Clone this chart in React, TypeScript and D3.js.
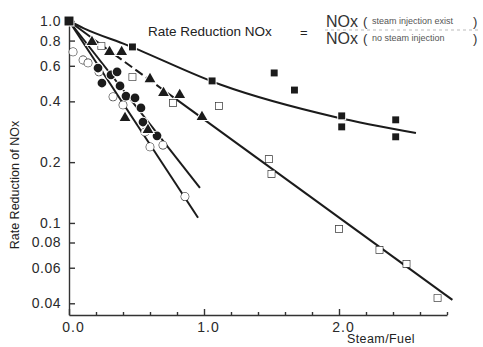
import React, { useEffect, useRef } from 'react'
import * as d3 from 'd3'

// steam/fuel ratio vs NOx reduction rate
const filledSquares: [number, number][] = [
  [0.47, 0.744], [1.06, 0.505], [1.52, 0.553], [1.67, 0.455],
  [2.02, 0.339], [2.02, 0.299], [2.42, 0.324], [2.42, 0.267],
]
const openSquares: [number, number][] = [
  [0.24, 0.752], [0.47, 0.528], [0.77, 0.393], [1.11, 0.38], [1.48, 0.207],
  [1.5, 0.175], [2.0, 0.0934], [2.3, 0.0735], [2.5, 0.0627], [2.73, 0.0425],
]
const filledTriangles: [number, number][] = [
  [0.17, 0.787], [0.3, 0.703], [0.39, 0.703], [0.6, 0.516], [0.7, 0.44],
  [0.82, 0.43], [0.985, 0.335], [0.415, 0.331], [0.585, 0.289],
]
const filledCircles: [number, number][] = [
  [0.215, 0.585], [0.244, 0.493], [0.311, 0.541], [0.356, 0.56], [0.378, 0.477],
  [0.422, 0.425], [0.489, 0.416], [0.533, 0.371], [0.548, 0.316], [0.652, 0.27],
]
const openCircles: [number, number][] = [
  [0.03, 0.703], [0.104, 0.641], [0.141, 0.62], [0.222, 0.56], [0.326, 0.421],
  [0.4, 0.384], [0.563, 0.282], [0.6, 0.238], [0.696, 0.243], [0.859, 0.135],
]
const origin: [number, number] = [0, 1.0]

// hand-drawn trend lines
const fitA: [number, number][] = [[0, 1], [0.11, 0.92], [0.43, 0.76], [1.12, 0.485], [1.97, 0.335], [2.57, 0.279]]
const fitBSolid1: [number, number][] = [[0, 1], [0.18, 0.814]]
const fitBDashed: [number, number][] = [[0.18, 0.814], [0.78, 0.416]]
const fitBSolid2: [number, number][] = [[0.78, 0.416], [2.84, 0.0416]]
const fitC: [number, number][] = [[0, 1], [0.97, 0.149]]
const fitD: [number, number][] = [[0, 1], [0.956, 0.106]]

const yTicks = [1.0, 0.8, 0.6, 0.4, 0.2, 0.1, 0.08, 0.06, 0.04]
const xTicks = [0, 1, 2]
const xMinorTicks = [0.2, 0.4, 0.6, 0.8, 1.2, 1.4, 1.6, 1.8, 2.2, 2.4, 2.6, 2.8]

const INK = '#1b1b1b'
const FONT = "'Liberation Sans', Arial, sans-serif"

export default function App() {
  const svgRef = useRef<SVGSVGElement>(null)

  useEffect(() => {
    if (!svgRef.current) return
    const svg = d3.select(svgRef.current)
    svg.selectAll('*').remove()

    const width = 483
    const height = 347

    svg.append('rect').attr('width', width).attr('height', height).attr('fill', '#fff')

    const x = d3.scaleLinear().domain([0, 2.8]).range([69, 447])
    const y = d3.scaleLog().domain([0.035, 1]).range([315, 21])

    // axes
    const yAxis = svg
      .append('g')
      .attr('transform', `translate(${x(0)},0)`)
      .call(
        d3.axisLeft(y)
          .tickValues(yTicks)
          .tickSizeInner(-6)
          .tickSizeOuter(0)
          .tickPadding(8)
          .tickFormat((d) => ((d as number) >= 0.1 ? (d as number).toFixed(1) : (d as number).toFixed(2)))
      )
    yAxis.selectAll('text')
      .style('font-size', '14px')
      .style('font-family', FONT)
      .style('letter-spacing', '0.5px')
      .style('fill', '#2a2a2a')

    const xAxis = svg
      .append('g')
      .attr('transform', `translate(0,${y(0.035)})`)
      .call(
        d3.axisBottom(x)
          .tickValues(xTicks)
          .tickSizeInner(-6)
          .tickSizeOuter(0)
          .tickPadding(7)
          .tickFormat(d3.format('.1f'))
      )
    xAxis.selectAll('text')
      .attr('dx', 4)
      .style('font-size', '14px')
      .style('font-family', FONT)
      .style('letter-spacing', '1px')
      .style('fill', '#2a2a2a')

    svg.append('g')
      .attr('transform', `translate(0,${y(0.035)})`)
      .call(d3.axisBottom(x).tickValues(xMinorTicks).tickSizeInner(-3).tickSizeOuter(0).tickFormat(() => ''))
      .select('.domain').remove()

    svg.selectAll('.domain, .tick line')
      .style('stroke', '#333')
      .style('stroke-width', 1.4)

    // trend lines
    const line = d3.line<[number, number]>()
      .x((d) => x(d[0]))
      .y((d) => y(d[1]))

    const curved = d3.line<[number, number]>()
      .x((d) => x(d[0]))
      .y((d) => y(d[1]))
      .curve(d3.curveMonotoneX)

    const drawLine = (pts: [number, number][], gen: typeof line, dash?: string) =>
      svg.append('path')
        .datum(pts)
        .attr('fill', 'none')
        .attr('stroke', INK)
        .attr('stroke-width', 2)
        .attr('stroke-dasharray', dash || null)
        .attr('d', gen)

    drawLine(fitA, curved)
    drawLine(fitBSolid1, line)
    drawLine(fitBDashed, line, '9 4')
    drawLine(fitBSolid2, line)
    drawLine(fitC, line)
    drawLine(fitD, line)

    // markers
    const drawMarkers = (
      pts: [number, number][],
      type: d3.SymbolType,
      size: number,
      filled: boolean,
    ) =>
      svg.append('g')
        .selectAll('path')
        .data(pts)
        .join('path')
        .attr('transform', (d) => `translate(${x(d[0])},${y(d[1])})`)
        .attr('d', d3.symbol().type(type).size(size)())
        .attr('fill', filled ? INK : '#fff')
        .attr('stroke', filled ? '#fff' : INK)
        .attr('stroke-width', filled ? 2 : 1.2)
        .style('paint-order', 'stroke')

    drawMarkers(openCircles, d3.symbolCircle, 45, false)
    drawMarkers(openSquares, d3.symbolSquare, 42, false)
    drawMarkers(filledCircles, d3.symbolCircle, 60, true)
    drawMarkers(filledTriangles, d3.symbolTriangle, 50, true)
    drawMarkers(filledSquares, d3.symbolSquare, 48, true)
    drawMarkers([origin], d3.symbolSquare, 80, true)

    // axis titles
    svg.append('text')
      .attr('transform', 'translate(19,185) rotate(-90)')
      .attr('text-anchor', 'middle')
      .style('font-family', FONT)
      .style('font-size', '12.5px')
      .style('fill', '#222')
      .text('Rate Reduction of NOx')

    svg.append('text')
      .attr('x', 347)
      .attr('y', 343)
      .style('font-family', FONT)
      .style('font-size', '12.5px')
      .style('letter-spacing', '0.4px')
      .style('fill', '#222')
      .text('Steam/Fuel')

    // formula in the top right
    const f = svg.append('g').style('font-family', FONT).style('fill', '#222')
    f.append('text').attr('x', 148).attr('y', 36).style('font-size', '13.5px').text('Rate Reduction NOx')
    f.append('text').attr('x', 300).attr('y', 37).style('font-size', '13px').text('=')
    f.append('line')
      .attr('x1', 325).attr('x2', 480).attr('y1', 30).attr('y2', 30)
      .attr('stroke', '#aaa').attr('stroke-width', 0.8).attr('stroke-dasharray', '3 3')
    f.append('text').attr('x', 326).attr('y', 27).style('font-size', '16px').style('fill', '#333').text('NOx')
    f.append('text').attr('x', 326).attr('y', 44).style('font-size', '16px').style('fill', '#333').text('NOx')
    f.append('text').attr('x', 363).attr('y', 26).style('font-size', '13px').style('fill', '#333').text('(')
    f.append('text').attr('x', 363).attr('y', 43).style('font-size', '13px').style('fill', '#333').text('(')
    f.append('text').attr('x', 473).attr('y', 26).style('font-size', '13px').style('fill', '#333').text(')')
    f.append('text').attr('x', 473).attr('y', 43).style('font-size', '13px').style('fill', '#333').text(')')
    f.append('text').attr('x', 372).attr('y', 24).style('font-size', '9px').style('fill', '#555').text('steam injection  exist')
    f.append('text').attr('x', 372).attr('y', 41).style('font-size', '9px').style('fill', '#555').text('no steam injection')
  }, [])

  return (
    <svg
      ref={svgRef}
      width={483}
      height={347}
      style={{ position: 'absolute', left: 0, top: 0, display: 'block' }}
    />
  )
}
